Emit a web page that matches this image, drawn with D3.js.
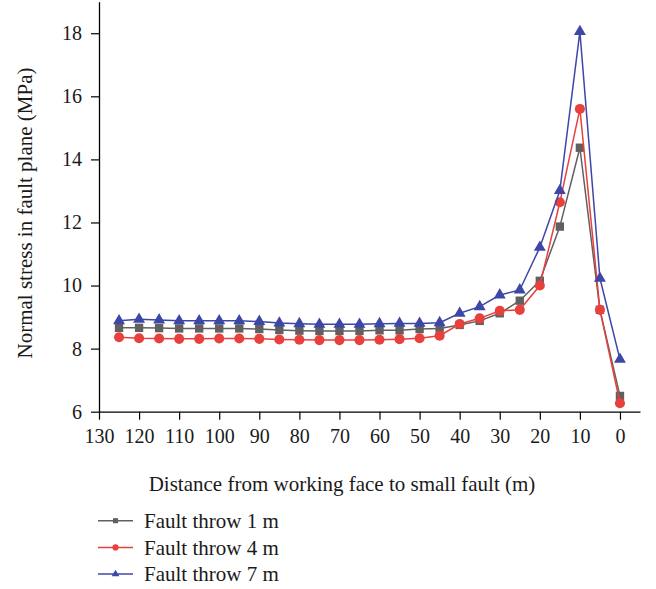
<!DOCTYPE html>
<html>
<head>
<meta charset="utf-8">
<script src="https://cdn.jsdelivr.net/npm/d3@7"></script>
<style>
  body { margin: 0; background: #fff; }
  svg { display: block; font-family: "Liberation Serif", "DejaVu Serif", serif; }
</style>
</head>
<body>
<svg id="chart" width="656" height="589"></svg>
<script>
// distance from working face (m)
const distances = [125, 120, 115, 110, 105, 100, 95, 90, 85, 80, 75, 70, 65,
                   60, 55, 50, 45, 40, 35, 30, 25, 20, 15, 10, 5, 0];

const throw1m = [8.66, 8.66, 8.65, 8.64, 8.64, 8.64, 8.64, 8.62, 8.59, 8.57, 8.56, 8.56, 8.56,
                 8.58, 8.58, 8.62, 8.64, 8.75, 8.88, 9.12, 9.52, 10.15, 11.87, 14.37, 9.23, 6.50];
const throw4m = [8.36, 8.33, 8.32, 8.31, 8.31, 8.32, 8.32, 8.31, 8.29, 8.28, 8.27, 8.27, 8.27,
                 8.28, 8.30, 8.33, 8.41, 8.78, 8.96, 9.20, 9.23, 10.00, 12.64, 15.60, 9.23, 6.27];
const throw7m = [8.88, 8.93, 8.91, 8.88, 8.88, 8.88, 8.88, 8.86, 8.81, 8.79, 8.77, 8.77, 8.77,
                 8.79, 8.80, 8.80, 8.82, 9.12, 9.33, 9.70, 9.86, 11.21, 13.01, 18.05, 10.23, 7.66];

const xMajorTicks = [130, 120, 110, 100, 90, 80, 70, 60, 50, 40, 30, 20, 10, 0];
const xMinorTicks = [125, 115, 105, 95, 85, 75, 65, 55, 45, 35, 25, 15, 5, -5];
const yMajorTicks = [6, 8, 10, 12, 14, 16, 18];
const yMinorTicks = [7, 9, 11, 13, 15, 17, 19];

const seriesNames = ['Fault throw 1 m', 'Fault throw 4 m', 'Fault throw 7 m'];

const series = [
  { name: seriesNames[0], values: throw1m, color: '#606060', symbol: d3.symbolSquare, size: 70, legendSize: 26 },
  { name: seriesNames[1], values: throw4m, color: '#e8403c', symbol: d3.symbolCircle, size: 80, legendSize: 30 },
  { name: seriesNames[2], values: throw7m, color: '#3d47a8', symbol: d3.symbolTriangle, size: 62, legendSize: 26 },
];

const svg = d3.select('#chart');

const x = d3.scaleLinear().domain([130, -5]).range([99, 640]);
const y = d3.scaleLinear().domain([6, 19]).range([411.7, 1.7]);

// axes
const xAxisG = svg.append('g').attr('transform', `translate(0, ${y(6)})`);
xAxisG.call(d3.axisBottom(x).tickValues(xMinorTicks).tickSize(4).tickSizeOuter(0).tickFormat(''));
xAxisG.call(d3.axisBottom(x).tickValues(xMajorTicks).tickSize(8).tickSizeOuter(0).tickPadding(9));

const yAxisG = svg.append('g').attr('transform', `translate(${x(130)}, 0)`);
yAxisG.call(d3.axisLeft(y).tickValues(yMinorTicks).tickSize(4).tickSizeOuter(0).tickFormat(''));
yAxisG.call(d3.axisLeft(y).tickValues(yMajorTicks).tickSize(8).tickSizeOuter(0).tickPadding(9));

svg.selectAll('.domain').attr('stroke', '#000').attr('stroke-width', 1.3);
svg.selectAll('.tick line').attr('stroke', '#000').attr('stroke-width', 1.2);
svg.selectAll('.tick text')
  .attr('fill', '#1a1a1a')
  .style('font-family', '"Liberation Serif", "DejaVu Serif", serif')
  .style('font-size', '20px');

// axis titles
svg.append('text')
  .attr('x', 342)
  .attr('y', 491)
  .attr('text-anchor', 'middle')
  .attr('fill', '#1a1a1a')
  .style('font-size', '21px')
  .text('Distance from working face to small fault (m)');

svg.append('text')
  .attr('transform', 'translate(32, 213) rotate(-90)')
  .attr('text-anchor', 'middle')
  .attr('fill', '#1a1a1a')
  .style('font-size', '21px')
  .text('Normal stress in fault plane (MPa)');

// lines and markers
const line = d3.line()
  .x((d, i) => x(distances[i]))
  .y((d) => y(d));

series.forEach((s) => {
  const g = svg.append('g');

  g.append('path')
    .datum(s.values)
    .attr('fill', 'none')
    .attr('stroke', s.color)
    .attr('stroke-width', 1.5)
    .attr('d', line);

  g.selectAll('path.marker')
    .data(s.values)
    .enter().append('path')
    .attr('class', 'marker')
    .attr('d', d3.symbol().type(s.symbol).size(s.size))
    .attr('transform', (d, i) => `translate(${x(distances[i])}, ${y(d)})`)
    .attr('fill', s.color);
});

// legend
const legend = svg.append('g').attr('transform', 'translate(98, 520.7)');
series.forEach((s, i) => {
  const row = legend.append('g').attr('transform', `translate(0, ${i * 26.7})`);

  row.append('line')
    .attr('x1', 0)
    .attr('x2', 35)
    .attr('stroke', s.color)
    .attr('stroke-width', 1.5);

  row.append('path')
    .attr('d', d3.symbol().type(s.symbol).size(s.legendSize))
    .attr('transform', 'translate(17.5, 0)')
    .attr('fill', s.color);

  row.append('text')
    .attr('x', 46)
    .attr('dy', '0.35em')
    .attr('fill', '#1a1a1a')
    .style('font-size', '21px')
    .text(s.name);
});
</script>
</body>
</html>
